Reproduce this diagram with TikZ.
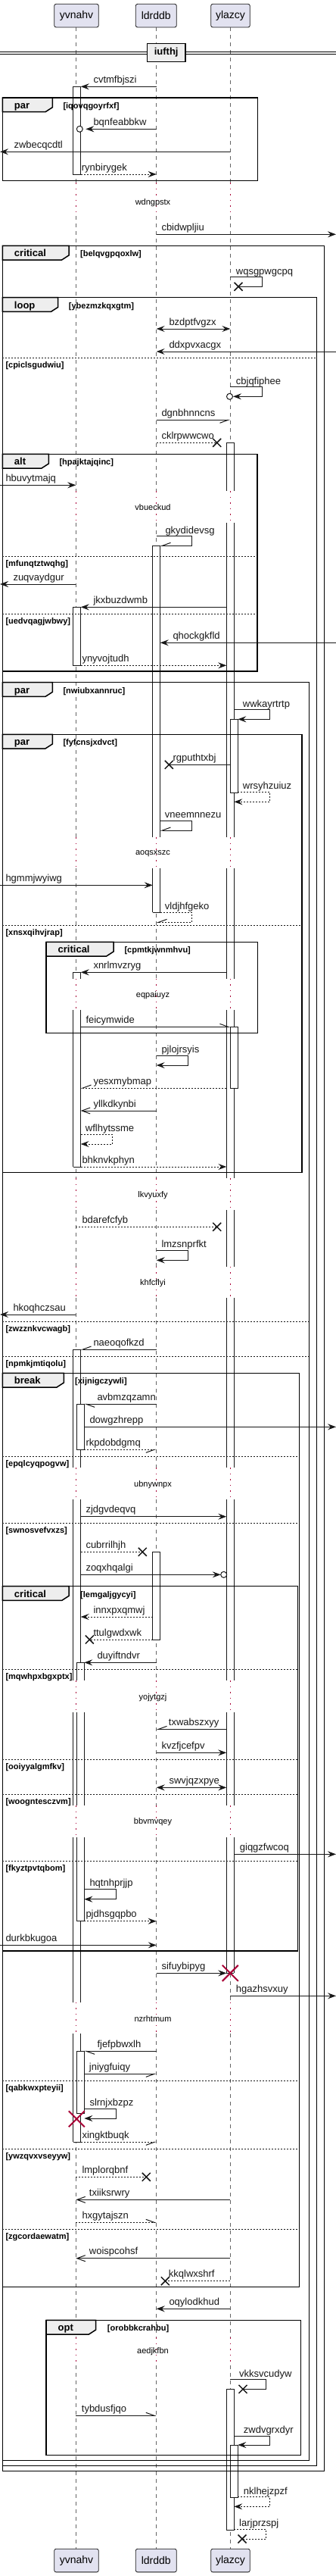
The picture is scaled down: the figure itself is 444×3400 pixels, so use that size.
\documentclass[tikz,border=0pt]{standalone}
\usepackage{fontspec}
\setmainfont{Liberation Sans}
\usetikzlibrary{arrows.meta}
\definecolor{ln}{HTML}{181818}
\definecolor{crim}{HTML}{A80036}
\definecolor{tabg}{HTML}{EEEEEE}
\definecolor{partf}{HTML}{E2E2F0}
\definecolor{lifec}{HTML}{666666}
\tikzset{
  ml/.style={line width=1pt, draw=ln},
  pl/.style={ml},
  pld/.style={ml, dash pattern=on 2pt off 2pt},
  fa/.style={ml, -{Stealth[length=11pt,width=8pt,inset=4pt]}},
  fad/.style={fa, dash pattern=on 2pt off 2pt},
  ba/.style={ml, {Stealth[length=11pt,width=8pt,inset=4pt]}-{Stealth[length=11pt,width=8pt,inset=4pt]}},
  oa/.style={ml, -{Straight Barb[length=11pt,width=8pt]}},
  hl/.style={ml, -{Straight Barb[length=11pt,width=8pt,left]}},
  hr/.style={ml, -{Straight Barb[length=11pt,width=8pt,right]}},
  hld/.style={hl, dash pattern=on 2pt off 2pt},
  hrd/.style={hr, dash pattern=on 2pt off 2pt},
  framest/.style={line width=1.5pt, draw=black},
  tabst/.style={fill=tabg, draw=black, line width=1.5pt},
  dvl/.style={line width=1pt, draw=ln, dash pattern=on 2pt off 2pt},
  lifel/.style={line width=0.8pt, draw=lifec, dash pattern=on 5pt off 5pt},
  delayl/.style={line width=1pt, draw=crim, dash pattern=on 1.5pt off 6pt},
  act/.style={fill=white, draw=ln, line width=1pt},
  actl/.style={draw=ln, line width=1pt},
  xmk/.style={line width=1.5pt, draw=ln},
  dx/.style={line width=2pt, draw=crim},
  mtxt/.style={font=\fontsize{13}{15}\selectfont, inner sep=0pt, text=ln},
  grd/.style={font=\bfseries\fontsize{11}{13}\selectfont, inner sep=0pt},
  tabtxt/.style={font=\bfseries\fontsize{13}{15}\selectfont, inner sep=0pt},
  dly/.style={font=\fontsize{11}{13}\selectfont, inner sep=0pt},
  part/.style={draw=ln, fill=partf, line width=0.8pt, rounded corners=2.5pt, minimum height=30.7pt, inner sep=0pt, font=\fontsize{14}{16}\selectfont},
}
% horizontal message: y, x1, x2, style, label, labelx
\newcommand\qhm[6]{\draw[#4] (#2,#1) -- (#3,#1);
  \node[mtxt,anchor=base west] (#5) at (#6,#1-5) {#5};}
% self message: y1, y2, xs, xr, xe, style, label, labelx
\newcommand\qsm[8]{\draw[#6] (#3,#1) -- (#4,#1) -- (#4,#2) -- (#5,#2);
  \node[mtxt,anchor=base west] (#7) at (#8,#1-3.5) {#7};}
\newcommand\qxm[2]{\draw[xmk] (#1-5.5,#2-5.5) -- (#1+5.5,#2+5.5) (#1-5.5,#2+5.5) -- (#1+5.5,#2-5.5);}
\newcommand\qbx[2]{\draw[dx] (#1-10.5,#2-10.5) -- (#1+10.5,#2+10.5) (#1-10.5,#2+10.5) -- (#1+10.5,#2-10.5);}
\newcommand\qcirc[2]{\draw[ml,fill=white] (#1,#2) circle (4);}
% frame: x0,y0,x1,y1,tabright,label,guard,guardx
\newcommand\qfrm[8]{\draw[framest] (#1,#2) rectangle (#3,#4);
  \filldraw[tabst] (#1,#2) -- (#5,#2) -- (#5,#2+12.7) -- (#5-9.3,#2+18.7) -- (#1,#2+18.7) -- cycle;
  \node[tabtxt,anchor=base west] at (#1+15.5,#2+14.5) {#6};
  \node[grd,anchor=base west] at (#8,#2+14.5) {#7};}
% divider: x0,x1,y,guard
\newcommand\qdvd[4]{\draw[dvl] (#1,#3) -- (#2,#3);
  \node[grd,anchor=base west] at (#1+4,#3+13) {#4};}
\newcommand\qactc[3]{\filldraw[act] (#1,#2) rectangle (#1+10,#3);}
\newcommand\qacto[3]{\fill[white] (#1,#2) rectangle (#1+10,#3); \draw[actl] (#1,#2) -- (#1,#3) (#1+10,#2) -- (#1+10,#3);}
\newcommand\qactt[2]{\draw[actl] (#1,#2) -- (#1+10,#2);}
\begin{document}
\begin{tikzpicture}[x=1pt,y=-1pt]
\useasboundingbox (0,0) rectangle (444,3400);
\fill[white] (0,0) rectangle (444,3400);
% lifelines
\foreach \x in {100.3,206.7,304.3} {
  \foreach \a/\b in {36/241, 285/648.3, 690/1105, 1146/1291.7, 1333.3/1555, 1597.3/1671.7, 1713.3/1937.3, 1979.3/2218.3, 2260/2383.3, 2425/2642.7, 2684/3085, 3121.7/3364}
    \draw[lifel] (\x,\a) -- (\x,\b);
  \foreach \a/\b in {241/285, 648.3/690, 1105/1146, 1291.7/1333.3, 1555/1597.3, 1671.7/1713.3, 1937.3/1979.3, 2218.3/2260, 2383.3/2425, 2642.7/2684, 3085/3121.7}
    \draw[delayl] (\x,\a) -- (\x,\b);
}
\foreach \t/\s in {267.3/wdngpstx, 670/vbueckud, 1126.7/aoqsxszc, 1313.3/eqpaiuyz, 1577.3/lkvyuxfy, 1694/khfcflyi, 1959.3/ubnywnpx, 2240.7/yojytgzj, 2405/bbvmvqey, 2664.3/nzrhtmum, 3103.3/aedjkfbn}
  \node[dly] (d-\s) at (202,\t) {\s};
% participants
\node[part,minimum width=58.6pt] (pA) at (101,20.65) {yvnahv};
\node[part,minimum width=54pt] (pB) at (206.3,20.65) {ldrddb};
\node[part,minimum width=51.6pt] (pC) at (304.5,20.65) {ylazcy};
\node[part,minimum width=58.6pt] (qA) at (101,3379.5) {yvnahv};
\node[part,minimum width=54pt] (qB) at (206.3,3379.5) {ldrddb};
\node[part,minimum width=51.6pt] (qC) at (304.5,3379.5) {ylazcy};
% separator
\draw[line width=1pt] (0,68.3) -- (444,68.3) (0,71) -- (444,71);
\node[draw=black, line width=1.5pt, fill=tabg, minimum width=50.7pt, minimum height=24.4pt, inner sep=0pt, font=\bfseries\fontsize{13}{15}\selectfont] (sep) at (219.7,69.5) {iufthj};
% activations yvnahv
\qactc{96.7}{114.3}{230}
\qactc{96.7}{801.3}{878.3}
\qacto{96.7}{1283.3}{1291.7}\qactt{96.7}{1283.3}
\qacto{96.7}{1333.3}{1540}\qactt{96.7}{1540}
\qacto{96.7}{1781}{1937.3}\qactt{96.7}{1781}
\qacto{96.7}{1979.3}{2218.3}
\qacto{96.7}{2260}{2383.3}
\qacto{96.7}{2425}{2642.7}
\qacto{96.7}{2684}{2827.3}\qactt{96.7}{2827.3}
\qactc{101.3}{1853.3}{1913.3}
\qacto{101.3}{2194.3}{2218.3}\qactt{101.3}{2194.3}
\qacto{101.3}{2260}{2383.3}
\qacto{101.3}{2425}{2535.7}\qactt{101.3}{2535.7}
\qactc{101.3}{2707.3}{2789.3}
% activations ldrddb
\qacto{201.7}{720.3}{1105}\qactt{201.7}{720.3}
\qacto{201.7}{1146}{1204.3}\qactt{201.7}{1204.3}
\qactc{201.7}{2048.3}{2164}
% activations ylazcy
\qacto{299.3}{584.3}{648.3}\qactt{299.3}{584.3}
\qacto{299.3}{690}{1105}
\qacto{299.3}{1146}{1291.7}
\qacto{299.3}{1333.3}{1555}
\qacto{299.3}{1597.3}{1671.7}
\qacto{299.3}{1713.3}{1937.3}
\qacto{299.3}{1979.3}{2218.3}
\qacto{299.3}{2260}{2383.3}
\qacto{299.3}{2425}{2604.3}\qactt{299.3}{2604.3}
\qactc{304.3}{949.3}{1046}
\qactc{304.3}{1355.3}{1436}
\qactc{299.3}{3153.3}{3339}
\qactc{304.3}{3227}{3296}
% frames
\qfrm{3.3}{129}{340.7}{238.7}{69.3}{par}{[iqovqgoyrfxf]}{83.3}
\qfrm{3.3}{324.3}{428.3}{3261.7}{91}{critical}{[belqvgpqoxlw]}{106}
\qfrm{3.3}{392.7}{418.3}{3254.7}{76.7}{loop}{[ybezmzkqxgtm]}{90.7}
\qdvd{3.3}{418.3}{472.7}{[cpiclsgudwiu]}
\qfrm{3.3}{599.3}{340}{886}{64.3}{alt}{[hpajktajqinc]}{78.3}
\qdvd{3.3}{340}{734}{[mfunqtztwqhg]}
\qdvd{3.3}{340}{810}{[uedvqagjwbwy]}
\qfrm{3.3}{900.7}{408.3}{3247.7}{69.3}{par}{[nwiubxannruc]}{83.3}
\qfrm{3.3}{969.3}{399}{1547.7}{69.3}{par}{[fyfcnsjxdvct]}{83.3}
\qdvd{3.3}{399}{1221}{[xnsxqihvjrap]}
\qfrm{61}{1243.3}{340.7}{1363.3}{150}{critical}{[cpmtkjwnmhvu]}{164.3}
\qdvd{3.3}{408.3}{1744}{[zwzznkvcwagb]}
\qdvd{3.3}{408.3}{1790}{[npmkjmtiqolu]}
\qfrm{3.3}{1812.3}{395.3}{3018.3}{84.3}{break}{[xijnigczywli]}{99}
\qdvd{3.3}{395.3}{1922.3}{[epqlcyqpogvw]}
\qdvd{3.3}{395.3}{2010.7}{[swnosvefvxzs]}
\qfrm{3.3}{2093.7}{393.3}{2575}{91}{critical}{[lemgaljgycyi]}{106}
\qdvd{3.3}{393.3}{2203.3}{[mqwhpxbgxptx]}
\qdvd{3.3}{393.3}{2322}{[ooiyyalgmfkv]}
\qdvd{3.3}{393.3}{2368.3}{[woogntesczvm]}
\qdvd{3.3}{393.3}{2456}{[fkyztpvtqbom]}
\qdvd{3.3}{395.3}{2746}{[qabkwxpteyii]}
\qdvd{3.3}{395.3}{2836}{[ywzqvxvseyyw]}
\qdvd{3.3}{395.3}{2942.3}{[zgcordaewatm]}
\qfrm{61}{3062.3}{397.3}{3240.7}{126.7}{opt}{[orobbkcrahbu]}{141.7}
% messages
\qhm{114.3}{206.7}{106.7}{fa}{cvtmfbjszi}{123.3}
\qhm{170.3}{206.7}{113.3}{fa}{bqnfeabbkw}{123.3}\qcirc{105.3}{170.3}
\qhm{200.3}{304.3}{0}{fa}{zwbecqcdtl}{18.3}
\qhm{230}{106.7}{206.7}{fad}{rynbirygek}{107.7}
\qhm{309.3}{206.7}{444}{fa}{cbidwpljiu}{213.3}
\qsm{365.7}{378.3}{304.3}{346.7}{315}{pl}{wqsgpwgcpq}{311.7}\qxm{315}{378.3}
\qhm{434}{206.7}{304.3}{ba}{bzdptfvgzx}{223.3}
\qhm{464}{444}{206.7}{fa}{ddxpvxacgx}{223.3}
\qsm{510.7}{523.3}{304.3}{346.7}{308}{fa}{cbjqfiphee}{311.7}\qcirc{303.5}{523.3}
\qhm{554.3}{206.7}{304.3}{hr}{dgnbhnncns}{213.3}
\qhm{584.3}{206.7}{286.7}{pld}{cklrpwwcwo}{213.3}\qxm{286.7}{584.3}
\qhm{640.3}{0}{100.3}{fa}{hbuvytmajq}{7.3}
\qsm{707.7}{720.3}{206.7}{253.3}{211.7}{hr}{gkydidevsg}{218.3}
\qhm{771}{100.3}{0}{fa}{zuqvaydgur}{17.3}
\qhm{801.3}{299.3}{106.7}{fa}{jkxbuzdwmb}{123.3}
\qhm{848.3}{444}{211.7}{fa}{qhockgkfld}{228.3}
\qhm{878.3}{106.7}{299.3}{fad}{ynyvojtudh}{108.3}
\qsm{936.7}{949.3}{309.3}{356.7}{314.3}{fa}{wwkayrtrtp}{320.7}
\qhm{1009.3}{304.3}{223.3}{pl}{rgputhtxbj}{228.3}\qxm{223.3}{1009.3}
\qsm{1045.3}{1058.3}{314.3}{356.7}{309.3}{fad}{wrsyhzuiuz}{320.7}
\qsm{1083.3}{1096}{211.7}{253.3}{211.7}{hr}{vneemnnezu}{217.7}
\qhm{1168.3}{0}{201.7}{fa}{hgmmjwyiwg}{7.3}
\qsm{1204.3}{1217.3}{211.7}{253.3}{206.7}{hrd}{vldjhfgeko}{217.7}
\qhm{1283.3}{299.3}{106.7}{fa}{xnrlmvzryg}{123.3}
\qhm{1355.3}{106.7}{304.3}{hl}{feicymwide}{113.3}
\qsm{1393.3}{1406}{206.7}{248.3}{206.7}{fa}{pjlojrsyis}{213.3}
\qhm{1436}{299.3}{106.7}{hrd}{yesxmybmap}{123.3}
\qhm{1466}{206.7}{106.7}{oa}{yllkdkynbi}{123.3}
\qsm{1497.3}{1510}{106.7}{148.3}{106.7}{fad}{wflhytssme}{112.7}
\qhm{1540}{106.7}{299.3}{fad}{bhknvkphyn}{108.3}
\qhm{1619.3}{100.3}{286.7}{pld}{bdarefcfyb}{108.3}\qxm{286.7}{1619.3}
\qsm{1650}{1663.3}{206.7}{248.3}{206.7}{fa}{lmzsnprfkt}{213.3}
\qhm{1735}{100.3}{0}{fa}{hkoqhczsau}{17.3}
\qhm{1781}{206.7}{106.7}{hr}{naeoqofkzd}{123.3}
\qhm{1853.3}{206.7}{111.3}{hl}{avbmzqzamn}{128.3}
\qhm{1883.3}{111.3}{444}{fa}{dowgzhrepp}{118.3}
\qhm{1913.3}{111.3}{206.7}{hrd}{rkpdobdgmq}{113.3}
\qhm{2001.7}{106.7}{299.3}{fa}{zjdgvdeqvq}{113.3}
\qhm{2048.3}{106.7}{188.3}{pld}{cubrrilhjh}{113.3}\qxm{188.3}{2048.3}
\qhm{2078.3}{106.7}{291.7}{fa}{zoqxhqalgi}{113.3}\qcirc{295.7}{2078.3}
\qhm{2134}{201.7}{106.7}{fad}{innxpxqmwj}{123.3}
\qhm{2164}{201.7}{118.3}{pld}{ttulgwdxwk}{123.3}\qxm{118.3}{2164}
\qhm{2194.3}{206.7}{111.3}{fa}{duyiftndvr}{128.3}
\qhm{2282.3}{299.3}{206.7}{hr}{txwabszxyy}{222.7}
\qhm{2313.3}{206.7}{299.3}{fa}{kvzfjcefpv}{213.3}
\qhm{2359.3}{206.7}{299.3}{ba}{swvjqzxpye}{223.3}
\qhm{2447.3}{309.3}{444}{fa}{giqgzfwcoq}{316.7}
\qsm{2493.3}{2506.7}{111.3}{153.3}{111.3}{fa}{hqtnhprjjp}{118.3}
\qhm{2535.7}{111.3}{206.7}{fad}{pjdhsgqpbo}{113.3}
\qhm{2567.3}{0}{206.7}{fa}{durkbkugoa}{7.3}
\qhm{2604.3}{206.7}{299.3}{fa}{sifuybipyg}{213.3}\qbx{304.3}{2604.3}
\qhm{2634.3}{304.3}{444}{fa}{hgazhsvxuy}{311.7}
\qhm{2707.3}{206.7}{111.3}{hl}{fjefpbwxlh}{128.3}
\qhm{2737.3}{111.3}{206.7}{hr}{jniygfuiqy}{117.7}
\qsm{2783.3}{2796}{111.3}{153.3}{111.3}{fa}{slrnjxbzpz}{118.3}\qbx{101.3}{2796.7}
\qhm{2827.3}{106.7}{206.7}{hrd}{xingktbuqk}{108.3}
\qhm{2873.3}{100.3}{193.3}{pld}{lmplorqbnf}{108.3}\qxm{193.3}{2873.3}
\qhm{2903.3}{304.3}{100.3}{oa}{txiiksrwry}{117.7}
\qhm{2933.3}{100.3}{206.7}{hld}{hxgytajszn}{108.3}
\qhm{2980.7}{304.3}{100.3}{oa}{woispcohsf}{117.7}
\qhm{3010.7}{304.3}{218.3}{pld}{kkqlwxshrf}{222.7}\qxm{218.3}{3010.7}
\qhm{3047.3}{304.3}{206.7}{fa}{oqylodkhud}{223.3}
\qsm{3140.7}{3153.3}{304.3}{351.7}{321}{pl}{vkksvcudyw}{316}\qxm{321}{3153.3}
\qhm{3188.3}{100.3}{206.7}{hl}{tybdusfjqo}{107.7}
\qsm{3215}{3227}{309.3}{356.7}{314.3}{fa}{zwdvgrxdyr}{321.7}
\qsm{3295.7}{3308.3}{314.3}{356.7}{309.3}{fad}{nklhejzpzf}{321.7}
\qsm{3338.3}{3351}{309.3}{351.7}{320}{pld}{larjprzspj}{316}\qxm{320}{3351}
\end{tikzpicture}
\end{document}
